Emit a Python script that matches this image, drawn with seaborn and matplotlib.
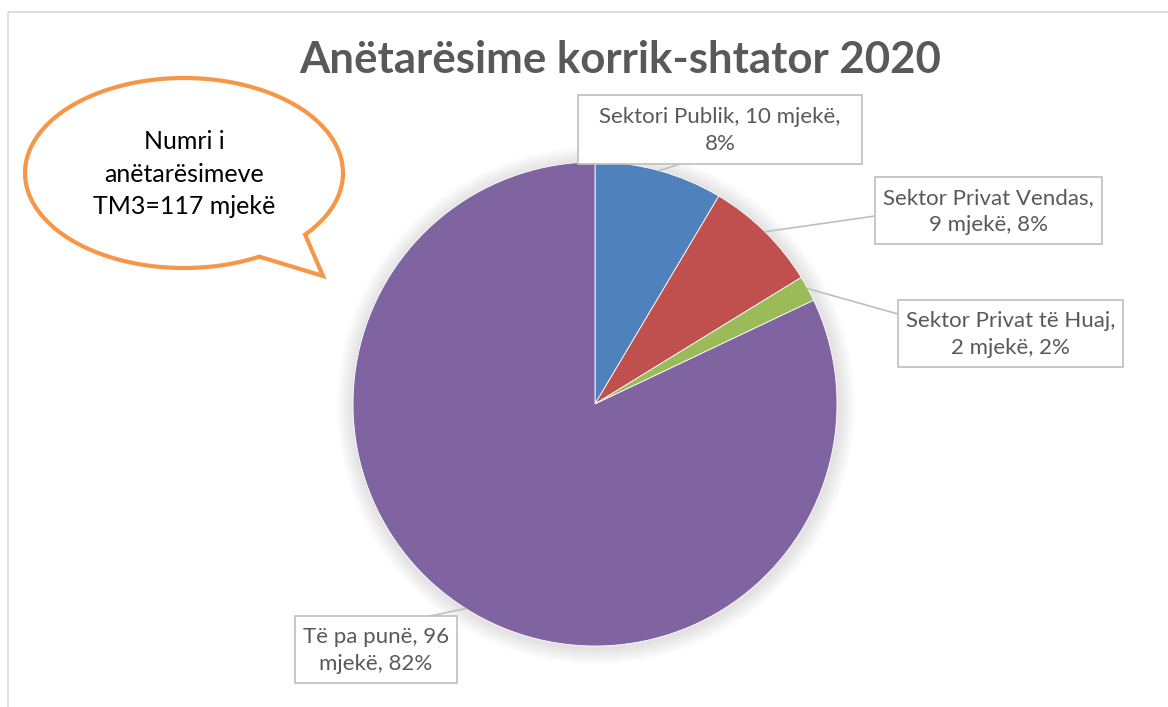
import matplotlib.pyplot as plt
import matplotlib as mpl
from matplotlib.patches import Rectangle, Circle, PathPatch, ConnectionPatch
from matplotlib.path import Path
import seaborn as sns
import numpy as np

sns.set_style("white")
plt.rcParams['font.family'] = ['Lato', 'DejaVu Sans']
mpl.rcParams['axes.unicode_minus'] = False

# data
sectors = ["Sektori Publik", "Sektor Privat Vendas", "Sektor Privat të Huaj", "Të pa punë"]
doctors = [10, 9, 2, 96]
percents = ["8%", "8%", "2%", "82%"]
label_texts = ["Sektori Publik, 10 mjekë,\n8%",
               "Sektor Privat Vendas,\n9 mjekë, 8%",
               "Sektor Privat të Huaj,\n2 mjekë, 2%",
               "Të pa punë, 96\nmjekë, 82%"]
title = "Anëtarësime korrik-shtator 2020"
bubble_text = "Numri i\nanëtarësimeve\nTM3=117 mjekë"

colors = sns.color_palette(["#4F81BD", "#C0504D", "#9BBB59", "#8064A2"])

W, H = 1168, 707
fig = plt.figure(figsize=(W / 100, H / 100), dpi=100)

# pie axes: centre (595, 404), radius 242 px
cx, cy, r = 595, 404, 242
half = 1.1 * r
pie_ax = fig.add_axes([(cx - half) / W, (H - cy - half) / H, 2 * half / W, 2 * half / H])

wedges, _ = pie_ax.pie(doctors, colors=colors, startangle=90, counterclock=False,
                       radius=1.0, wedgeprops=dict(linewidth=0.6, edgecolor="white"))
for w in wedges:
    w.set_zorder(2)

pie_ax.set_xlim(-1.1, 1.1)
pie_ax.set_ylim(-1.1, 1.1)
pie_ax.set_aspect("equal")
pie_ax.axis("off")

# soft glow behind the pie
for k in range(10):
    pie_ax.add_patch(Circle((0.004, -0.006), 1.0 + 0.007 * (k + 1), color="#808080",
                            alpha=0.018, lw=0, zorder=0))

# overlay in pixel coords
ov = fig.add_axes([0, 0, 1, 1], zorder=3)
ov.set_xlim(0, W)
ov.set_ylim(H, 0)
ov.axis("off")
ov.patch.set_visible(False)

ov.add_patch(Rectangle((8, 12), W, H, fill=False, ec="#D9D9D9", lw=1.2))

ov.text(620, 60, title, ha="center", va="center", fontsize=31.5, fontweight="bold",
        color="#595959")

# label boxes (x0, y0, x1, y1) and where the leader meets each box
boxes = [(578, 95, 862, 164), (875, 177, 1102, 244), (898, 300, 1123, 367), (295, 616, 457, 683)]
joins = [(680, 164), (875, 216), (898, 314), (430, 616)]

for w, txt, (x0, y0, x1, y1), join in zip(wedges, label_texts, boxes, joins):
    ov.add_patch(Rectangle((x0, y0), x1 - x0, y1 - y0, fc="white", ec="#BFBFBF", lw=1.2))
    ov.text((x0 + x1) / 2, (y0 + y1) / 2 + 1, txt, ha="center", va="center",
            fontsize=16, color="#595959", linespacing=1.45)
    mid = np.deg2rad((w.theta1 + w.theta2) / 2)
    con = ConnectionPatch(xyA=join, coordsA=ov.transData,
                          xyB=(np.cos(mid), np.sin(mid)), coordsB=pie_ax.transData,
                          color="#BFBFBF", lw=1.2, zorder=2.5)
    fig.add_artist(con)

# speech bubble
ecx, ecy, ea, eb = 184, 173, 159, 95
t = np.deg2rad(np.linspace(61.7, 360 + 40.4, 200))
pts = [(ecx + ea * np.cos(a), ecy + eb * np.sin(a)) for a in t]
pts.append((323, 276))
pts.append(pts[0])
codes = [Path.MOVETO] + [Path.LINETO] * (len(pts) - 2) + [Path.CLOSEPOLY]
ov.add_patch(PathPatch(Path(pts, codes), fc="white", ec="#F79646", lw=3, joinstyle="miter"))
ov.text(ecx, 174, bubble_text, ha="center", va="center", fontsize=18, color="black",
        linespacing=1.52)

fig.savefig("out.png", dpi=100)
